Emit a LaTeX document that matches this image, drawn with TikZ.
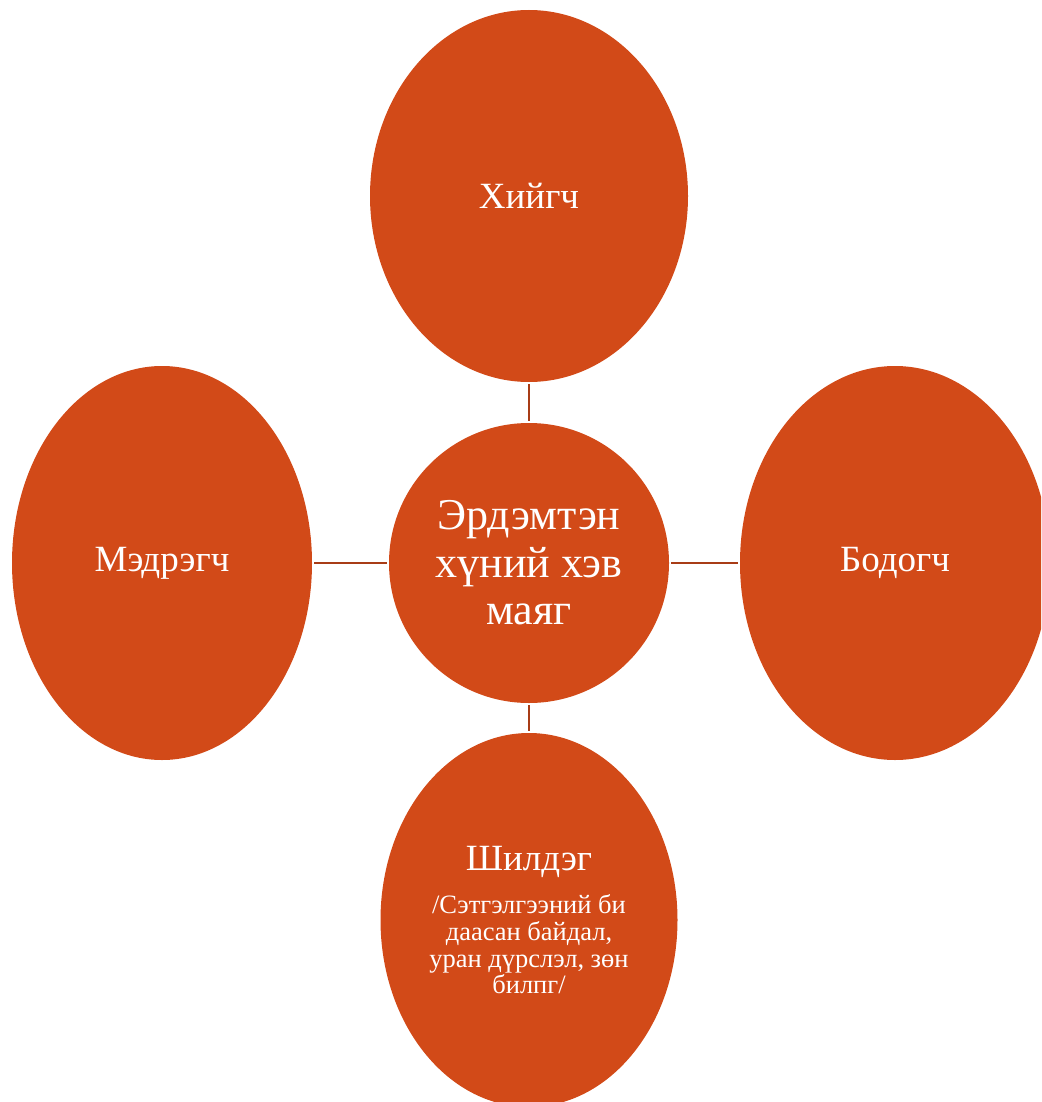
\documentclass[tikz,border=0pt]{standalone}
\usepackage{fontspec}
\setmainfont{Liberation Serif}
\usepackage{tikz}
\usetikzlibrary{shapes.geometric}
\definecolor{rust}{HTML}{D24A18}
\definecolor{rustline}{HTML}{A83C16}

\begin{document}
\begin{tikzpicture}[x=1pt,y=-1pt,
  blob/.style={ellipse,fill=rust,text=white,inner sep=0pt,align=center,
               font=\fontsize{37}{42}\selectfont},
  link/.style={draw=rustline,line width=2.5pt,shorten <=2pt,shorten >=2pt}]
\useasboundingbox (0,0) rectangle (1041,1102);
\clip (0,0) rectangle (1041,1102);

\node[blob,minimum width=280pt,minimum height=280pt,
      font=\fontsize{44}{47.5}\selectfont]                     (hub)   at (529,563)
  {Эрдэмтэн\\ хүний хэв\\ маяг};
\node[blob,minimum width=318pt,minimum height=372pt] (doer)  at (529,196) {Хийгч};
\node[blob,minimum width=300pt,minimum height=394pt] (feel)  at (162,563) {Мэдрэгч};
\node[blob,minimum width=310pt,minimum height=394pt] (think) at (895,563) {Бодогч};
\node[blob,minimum width=297pt,minimum height=374pt,
      font=\fontsize{26.5}{26.7}\selectfont]                   (pick)  at (529,920)
  {{\fontsize{37}{42}\selectfont Шилдэг}\\[17pt]
   /Сэтгэлгээний би\\ даасан байдал,\\ уран дүрслэл, зөн\\ билпг/};

\path[link]
(hub) edge (doer)
(hub) edge (feel)
(hub) edge (think)
(hub) edge (pick)
;
\end{tikzpicture}
\end{document}
